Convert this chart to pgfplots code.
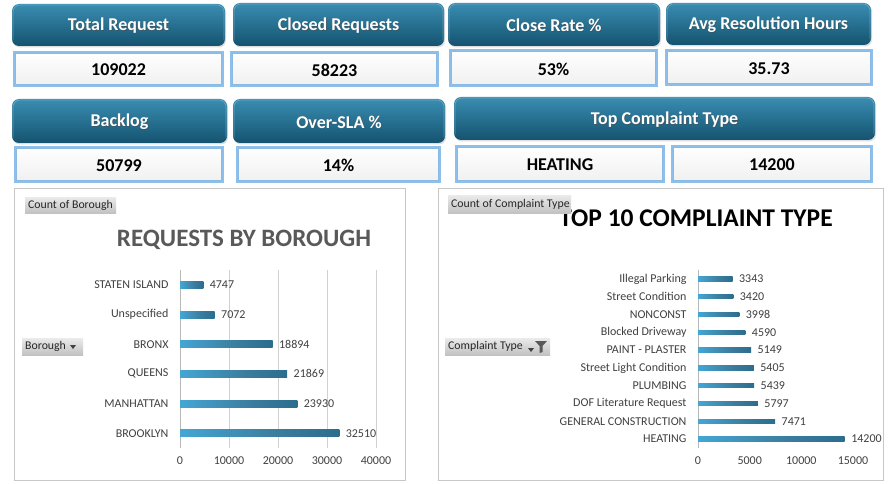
\documentclass[border=0pt]{standalone}
\usepackage{fontspec}
\setmainfont{Carlito}
\usepackage{pgfplots}
\pgfplotsset{compat=1.18}
\usetikzlibrary{shadows}

\definecolor{hdrtop}{HTML}{3A8DB2}
\definecolor{hdrmid}{HTML}{1F6A8C}
\definecolor{hdrbot}{HTML}{14536F}
\definecolor{boxline}{HTML}{8DBFEC}
\definecolor{boxinner}{HTML}{5B9BD5}
\definecolor{txtgray}{HTML}{404040}
\definecolor{titlegray}{HTML}{595959}
\definecolor{barA}{HTML}{F4FAFD}
\definecolor{barB}{HTML}{45AADA}
\definecolor{barC}{HTML}{3B7D9E}
\definecolor{barD}{HTML}{18597A}

\pgfdeclarehorizontalshading{barshade}{100bp}{color(0bp)=(barA); color(22bp)=(barB); color(55bp)=(barC); color(100bp)=(barD)}

% header card: x1,y1,x2,y2,text
\newcommand\hdr[5]{%
  \shade[rounded corners=7pt, top color=hdrtop, middle color=hdrmid, bottom color=hdrbot,
    drop shadow={opacity=0.25, shadow xshift=1pt, shadow yshift=-1.5pt}] (#1,#2) rectangle (#3,#4);
  \draw[rounded corners=7pt, hdrtop!60!white, line width=0.6pt, opacity=0.6] (#1+1,#4-6) -- (#1+1,#2+1) -- (#3-1,#2+1) -- (#3-1,#4-6);
  \node[text=black!70, opacity=0.6, font=\bfseries\fontsize{18}{20}\selectfont] at ({(#1+#3)/2+0.8},{(#2+#4)/2+1.8}) {#5};
  \node[text=white, font=\bfseries\fontsize{18}{20}\selectfont] at ({(#1+#3)/2},{(#2+#4)/2+1}) {#5};}
% value box: x1,y1,x2,y2,text
\newcommand\valbox[5]{%
  \shade[top color=white, bottom color=black!6] (#1,#2) rectangle (#3,#4);
  \draw[boxline, line width=2.6pt] (#1,#2) rectangle (#3,#4);
  \draw[boxinner!70, line width=0.5pt] (#1+1.3,#2+1.3) rectangle (#3-1.3,#4-1.3);
  \node[text=black, font=\bfseries\fontsize{18}{20}\selectfont] at ({(#1+#3)/2},{(#2+#4)/2+1}) {#5};}
% grey field button
\newcommand\btn[5]{%
  \shade[top color=black!8, bottom color=black!24] (#1,#2) rectangle (#3,#4);
  \node[anchor=west, inner sep=0pt, text=black!85, font=\fontsize{11.8}{13}\selectfont] at (#1+3,{(#2+#4)/2}) {#5};}

\pgfplotsset{
  dash/.style={
    scale only axis, anchor=south west, xbar,
    axis lines*=left, x axis line style={draw=none},
    y axis line style={draw=black!28, line width=0.9pt},
    major tick length=0pt, scaled x ticks=false,
    /pgf/number format/1000 sep={}, /pgf/number format/assume math mode=true,
    tick label style={text=txtgray, font=\fontsize{12}{14}\selectfont},
    xticklabel style={yshift=-5pt},
    yticklabel style={xshift=-8pt},
    nodes near coords,
    every node near coord/.append style={text=txtgray, font=\fontsize{12}{14}\selectfont, xshift=3pt},
  },
  onebar/.style={draw=none, shading=barshade, bar shift=0pt},
}

\begin{document}
\begin{tikzpicture}[x=1pt,y=-1pt]
\path[use as bounding box, fill=white] (0,0) rectangle (889,484);

% KPI cards, first row
\hdr{12}{4}{225}{46}{Total Request}
\valbox{14}{52}{223}{86}{109022}
\hdr{233}{3}{444}{46}{Closed Requests}
\valbox{231}{52}{438}{86}{58223}
\hdr{448}{3}{660}{46}{Close Rate \%}
\valbox{450}{50}{657}{86}{53\%}
\hdr{666}{3}{871}{45}{Avg Resolution Hours}
\valbox{666}{50}{872}{85}{35.73}
% second row
\hdr{12}{99}{227}{143}{Backlog}
\valbox{15}{147}{223}{182}{50799}
\hdr{233}{99}{445}{143}{Over-SLA \%}
\valbox{237}{147}{440}{182}{14\%}
\hdr{454}{97}{875}{140}{Top Complaint Type}
\valbox{456}{146}{664}{182}{HEATING}
\valbox{672}{146}{872}{182}{14200}

% chart panels
\draw[black!22, fill=white] (14,188) rectangle (405,480);
\draw[black!22, fill=white] (438,188) rectangle (883,480);

% left chart
\node[text=titlegray, font=\bfseries\fontsize{25}{27}\selectfont] at (244,240) {REQUESTS BY BOROUGH};
\btn{25}{197}{116}{213}{Count of Borough}
\btn{22}{338}{83}{355}{Borough}
\fill[black!75] (70,345) -- (76,345) -- (73,349) -- cycle;

\begin{axis}[dash, at={(180pt,-448pt)}, width=196pt, height=178pt,
  xmin=0, xmax=40000, ymin=-0.5, ymax=5.5, bar width=7pt,
  xtick={0,10000,20000,30000,40000}, xmajorgrids, major grid style={draw=black!18},
  ytick={0,1,2,3,4,5},
  yticklabels={BROOKLYN,MANHATTAN,QUEENS,BRONX,Unspecified,STATEN ISLAND}]
\addplot[onebar] coordinates {(32510,0)};
\addplot[onebar] coordinates {(23930,1)};
\addplot[onebar] coordinates {(21869,2)};
\addplot[onebar] coordinates {(18894,3)};
\addplot[onebar] coordinates {(7072,4)};
\addplot[onebar] coordinates {(4747,5)};
\end{axis}

% right chart
\node[text=black, font=\bfseries\fontsize{25.5}{27}\selectfont] at (696,218) {TOP 10 COMPLIAINT TYPE};
\btn{448}{195}{571}{213}{Count of Complaint Type}
\btn{445}{338}{550}{355}{Complaint Type}
\fill[black!75] (528,348) -- (534,348) -- (531,352) -- cycle;
\fill[black!65] (535,341) -- (547,341) -- (542.5,346) -- (542.5,352) -- (539.5,353) -- (539.5,346) -- cycle;

\begin{axis}[dash, at={(698pt,-448pt)}, width=155pt, height=178pt,
  xmin=0, xmax=15000, ymin=-0.5, ymax=9.5, bar width=4.5pt,
  xtick={0,5000,10000,15000},
  yticklabel style={font=\fontsize{12}{13}\selectfont},
  ytick={0,1,...,9},
  yticklabels={HEATING,GENERAL CONSTRUCTION,DOF Literature Request,PLUMBING,Street Light Condition,PAINT - PLASTER,Blocked Driveway,NONCONST,Street Condition,Illegal Parking}]
\addplot[onebar] coordinates {(14200,0)};
\addplot[onebar] coordinates {(7471,1)};
\addplot[onebar] coordinates {(5797,2)};
\addplot[onebar] coordinates {(5439,3)};
\addplot[onebar] coordinates {(5405,4)};
\addplot[onebar] coordinates {(5149,5)};
\addplot[onebar] coordinates {(4590,6)};
\addplot[onebar] coordinates {(3998,7)};
\addplot[onebar] coordinates {(3420,8)};
\addplot[onebar] coordinates {(3343,9)};
\end{axis}
\end{tikzpicture}
\end{document}
